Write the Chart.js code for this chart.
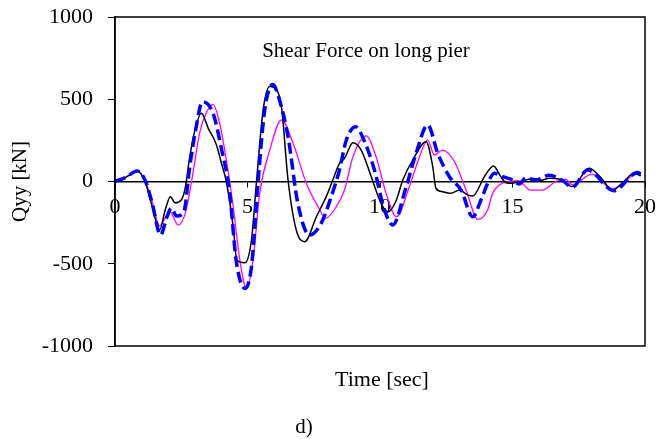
<!DOCTYPE html>
<html>
<head>
<meta charset="utf-8">
<script src="https://cdn.jsdelivr.net/npm/chart.js@4.4.1/dist/chart.umd.min.js"></script>
<style>
  html, body { margin: 0; padding: 0; background: #fff; }
  #wrap { width: 656px; height: 439px; }
</style>
</head>
<body>
<div id="wrap"><canvas id="QyyChart" width="656" height="439"></canvas></div>
<script>
// shear force time histories, Qyy [kN] against time [sec]
const timeBlack = [0, 0.4, 0.84, 1.13, 1.4, 1.68, 1.9, 2.09, 2.26, 2.5, 2.65, 2.82, 3.0, 3.26, 3.52, 3.83, 4.0, 4.2, 4.46, 4.6, 4.9, 5.15, 5.34, 5.59, 5.84, 6.0, 6.28, 6.53, 6.84, 7.16, 7.6, 7.97, 8.22, 8.47, 8.66, 8.98, 9.29, 9.67, 10.04, 10.3, 10.6, 10.86, 11.24, 11.74, 11.99, 12.11, 12.36, 12.68, 12.99, 13.31, 13.5, 13.94, 14.28, 14.56, 14.75, 15.0, 15.3, 15.7, 16.0, 16.4, 16.76, 17.26, 17.89, 18.3, 18.77, 19.2, 19.59, 19.84];
const qBlack = [0, 25, 64, 0, -150, -295, -170, -92, -129, -112, -40, 150, 300, 415, 323, 222, 120, 0, -275, -480, -494, -356, 0, 435, 577, 570, 455, 9, -295, -366, -214, -92, 9, 110, 141, 236, 191, 29, -133, -185, -120, 9, 131, 242, 90, -41, -62, -72, -52, -82, -88, 29, 94, 29, -7, -10, 0, 15, 5, 20, 15, -31, 80, 30, -52, 0, 50, 35];

const timeBlue = [0, 0.4, 0.84, 1.13, 1.4, 1.72, 1.95, 2.13, 2.32, 2.6, 2.82, 3.05, 3.3, 3.7, 4.0, 4.33, 4.57, 4.9, 5.15, 5.4, 5.65, 5.96, 6.2, 6.53, 6.9, 7.34, 7.78, 8.16, 8.47, 8.73, 9.08, 9.42, 9.79, 10.17, 10.48, 10.99, 11.36, 11.8, 12.18, 12.62, 13.06, 13.5, 13.81, 14.12, 14.31, 14.63, 15.0, 15.25, 15.5, 15.88, 16.38, 16.88, 17.26, 17.83, 18.83, 19.71, 19.84];
const qBlue = [0, 25, 64, 10, -130, -325, -220, -162, -210, -183, 90, 320, 485, 415, 212, -72, -477, -650, -518, 0, 435, 590, 500, 272, -133, -325, -254, -92, 70, 252, 333, 242, 70, -173, -264, -31, 171, 343, 171, 29, -52, -215, -112, 9, 50, 29, 10, -15, 20, 10, 38, 8, -35, 70, -56, 54, 45];

const timeMagenta = [0, 0.4, 0.84, 1.13, 1.4, 1.68, 2.07, 2.38, 2.64, 2.89, 3.2, 3.45, 3.7, 3.95, 4.2, 4.46, 4.71, 4.96, 5.21, 5.46, 5.84, 6.28, 6.72, 7.22, 7.66, 7.95, 8.35, 8.66, 8.98, 9.48, 9.85, 10.23, 10.62, 11.11, 11.49, 11.8, 12.05, 12.36, 12.81, 13.25, 13.69, 14.06, 14.25, 14.5, 14.88, 15.2, 15.69, 16.13, 16.63, 17.0, 17.26, 18.0, 18.77, 19.71, 19.84];
const qMagenta = [0, 25, 64, 5, -120, -270, -183, -265, -200, 0, 300, 420, 469, 354, 131, -153, -477, -650, -477, -72, 191, 374, 232, -11, -153, -224, -153, -52, 151, 277, 151, -72, -214, -31, 151, 252, 161, 191, 120, -52, -230, -173, -72, -21, 0, 5, -52, -52, 0, 15, -20, 45, -45, 45, 40];

const timeTicks = [0, 5, 10, 15, 20];
const qTicks = [-1000, -500, 0, 500, 1000];

function toPoints(times, values) {
    return times.map((t, i) => ({ x: t, y: values[i] }));
}

const serif = "'Liberation Serif', 'Times New Roman', serif";

// box round the plot area plus the free text (inner title, axis caption, panel letter)
const framePlugin = {
    id: 'frame',
    afterDraw(chart) {
        const ctx = chart.ctx;
        const a = chart.chartArea;
        const mid = (a.left + a.right) / 2;
        ctx.save();
        ctx.strokeStyle = '#000';
        ctx.lineWidth = 1.5;
        ctx.strokeRect(a.left, a.top, a.right - a.left, a.bottom - a.top);

        ctx.fillStyle = '#000';
        ctx.textAlign = 'center';
        ctx.textBaseline = 'middle';
        ctx.font = '21px ' + serif;
        ctx.fillText('Shear Force on long pier', mid - 14, a.top + 34);
        ctx.font = '22px ' + serif;
        ctx.fillText('Time [sec]', mid + 2, a.bottom + 34);
        ctx.font = '21px ' + serif;
        ctx.fillText('d)', mid - 76, a.bottom + 81);
        ctx.restore();
    }
};

const config = {
    type: 'line',
    data: {
        datasets: [{
            label: 'Black',
            data: toPoints(timeBlack, qBlack),
            borderColor: '#000000',
            borderWidth: 1.5,
            order: 1,
        }, {
            label: 'Blue',
            data: toPoints(timeBlue, qBlue),
            borderColor: '#0000ff',
            borderWidth: 3.5,
            borderDash: [11, 5],
            order: 0,
        }, {
            label: 'Magenta',
            data: toPoints(timeMagenta, qMagenta),
            borderColor: '#ff00ff',
            borderWidth: 1.3,
            order: 2,
        }]
    },
    options: {
        responsive: false,
        animation: false,
        events: [],
        layout: {
            padding: { left: 0, right: 11, top: 17, bottom: 93 }
        },
        elements: {
            point: { radius: 0 },
            line: { cubicInterpolationMode: 'monotone', fill: false }
        },
        plugins: {
            legend: { display: false },
            tooltip: { enabled: false }
        },
        scales: {
            x: {
                type: 'linear',
                position: { y: 0 },
                min: 0,
                max: 20,
                afterBuildTicks: axis => { axis.ticks = timeTicks.map(v => ({ value: v })); },
                afterFit: axis => { axis.paddingLeft = 0; axis.paddingRight = 0; },
                grid: { display: true, drawOnChartArea: false, drawTicks: true, tickLength: 5, color: '#000', lineWidth: 1 },
                border: { display: true, color: '#000', width: 1.5 },
                ticks: { color: '#000', padding: 8, maxRotation: 0, callback: v => String(v), font: { family: serif, size: 22 } }
            },
            y: {
                type: 'linear',
                min: -1000,
                max: 1000,
                afterBuildTicks: axis => { axis.ticks = qTicks.map(v => ({ value: v })); },
                afterFit: axis => { axis.width = 115; axis.paddingTop = 0; axis.paddingBottom = 0; },
                grid: { display: true, drawOnChartArea: false, drawTicks: true, tickLength: 7, color: '#000', lineWidth: 1 },
                border: { display: true, color: '#000', width: 1.5 },
                ticks: { color: '#000', padding: 15, callback: v => String(v), font: { family: serif, size: 22 } },
                title: { display: true, text: 'Qyy [kN]', color: '#000', padding: { top: 8, bottom: 0 }, font: { family: serif, size: 21 } }
            }
        }
    },
    plugins: [framePlugin]
};

const QyyChart = new Chart(document.getElementById('QyyChart'), config);
</script>
</body>
</html>
